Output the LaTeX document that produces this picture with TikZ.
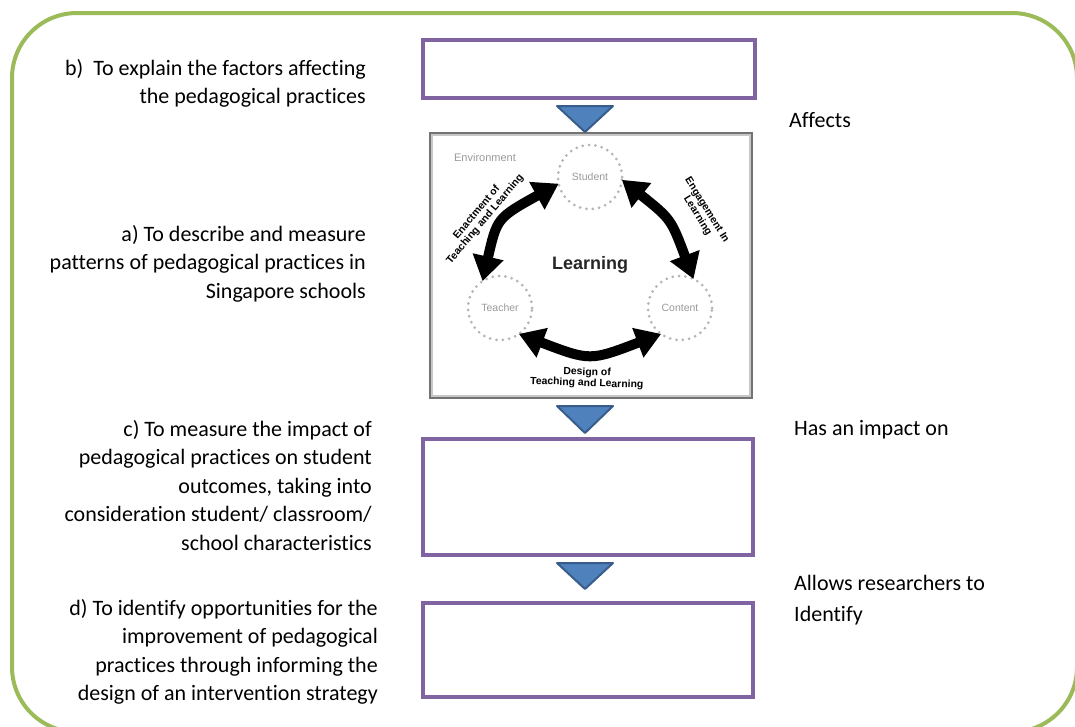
\documentclass[tikz,border=0pt]{standalone}
\usepackage{fontspec}
\setmainfont{Carlito}[Ligatures=NoCommon]
\newfontfamily\figsans{Liberation Sans}
\usetikzlibrary{arrows.meta}

\definecolor{outline}{HTML}{9BBB59}
\definecolor{boxline}{HTML}{8064A2}
\definecolor{trifill}{HTML}{4F81BD}
\definecolor{triline}{HTML}{385D8A}
\definecolor{dotgray}{HTML}{B4B4B4}
\definecolor{labgray}{HTML}{9A9A9A}

\tikzset{
  maintext/.style={font=\fontsize{22}{28.5}\selectfont, inner sep=0pt, text=black},
  leftblock/.style={maintext, align=right, anchor=north east},
  rightblock/.style={maintext, align=left, anchor=north west},
  emptybox/.style={draw=boxline, line width=4pt, fill=white, inner sep=0pt},
  downtri/.style={fill=trifill, draw=triline, line width=2pt, line join=round},
  party/.style={circle, minimum size=64pt, inner sep=0pt, outer sep=0pt,
    draw=dotgray, line width=3pt, line cap=round, dash pattern=on 0pt off 6.4pt,
    font=\figsans\fontsize{10.5}{12}\selectfont, text=labgray},
  cyclearrow/.style={line width=10pt, black,
    {Triangle[width=30pt,length=25pt]}-{Triangle[width=30pt,length=25pt]}},
  arrowlabel/.style={font=\figsans\bfseries\fontsize{10.4}{11}\selectfont, align=center, inner sep=0pt}
}

\begin{document}
\begin{tikzpicture}[x=1pt,y=-1pt]
\useasboundingbox (0,0) rectangle (1075,726);

% outer rounded frame
\draw[outline, line width=4pt, rounded corners=65pt] (12,13) rectangle (1077,732);

% empty boxes of the chain
\node[emptybox, minimum width=332pt, minimum height=58pt] (factors) at (589,69) {};
\node[emptybox, minimum width=330pt, minimum height=116pt] (outcomes) at (588,497) {};
\node[emptybox, minimum width=330pt, minimum height=94pt] (improve) at (588,650) {};

% picture of the learning cycle
\node[draw=black!55, line width=1.3pt, fill=white, minimum width=322pt, minimum height=265pt, inner sep=0pt] (cycle) at (591,265.5) {};
\draw[black!22, line width=2pt] ([shift={(2.5,2.5)}]cycle.north west) rectangle ([shift={(-2.5,-2.5)}]cycle.south east);

% down pointing triangles between the stages
\draw[downtri] (557,106) -- (613,106) -- (585,132) -- cycle;
\draw[downtri] (557,406) -- (613,406) -- (585,433) -- cycle;
\draw[downtri] (557,563) -- (613,563) -- (585,589) -- cycle;

% the three parties
\node[party] (stu) at (590,177) {Student};
\node[party] (tea) at (500,308) {Teacher};
\node[party] (con) at (680,308) {Content};

\node[font=\figsans\fontsize{11}{12}\selectfont, text=labgray, inner sep=0pt] (env) at (485,158) {Environment};
\node[font=\figsans\bfseries\fontsize{18}{20}\selectfont, text=black!85, inner sep=0pt] (learn) at (590,265) {Learning};

% curved double arrows
\draw[cyclearrow] (stu.192) .. controls (497,218) .. (tea.123);
\draw[cyclearrow] (stu.-5) .. controls (671,219) .. (con.65);
\draw[cyclearrow] (tea.-54) .. controls (590,361) .. (con.234);

\node[arrowlabel, rotate=50] (enact) at (481,216) {Enactment of\\Teaching and Learning};
\node[arrowlabel, rotate=-58] (engage) at (702,213) {Engagement In\\Learning};
\node[arrowlabel, rotate=-2] (design) at (587,378) {Design of\\Teaching and Learning};

% objectives on the left
\node[leftblock] (objb) at (366,59) {b)\ \ To explain the factors affecting\\the pedagogical practices};
\node[leftblock] (obja) at (366,225) {a) To describe and measure\\patterns of pedagogical practices in\\Singapore schools};
\node[leftblock] (objc) at (372,420) {c) To measure the impact of\\pedagogical practices on student\\outcomes, taking into\\consideration student/ classroom/\\school characteristics};
\node[leftblock] (objd) at (378,599) {d) To identify opportunities for the\\improvement of pedagogical\\practices through informing the\\design of an intervention strategy};

% relations on the right
\node[rightblock] (affects) at (789,112) {Affects};
\node[rightblock] (impact) at (794,420) {Has an impact on};
\node[rightblock, font=\fontsize{22}{31}\selectfont] (allows) at (794,575) {Allows researchers to\\Identify};
\end{tikzpicture}
\end{document}
